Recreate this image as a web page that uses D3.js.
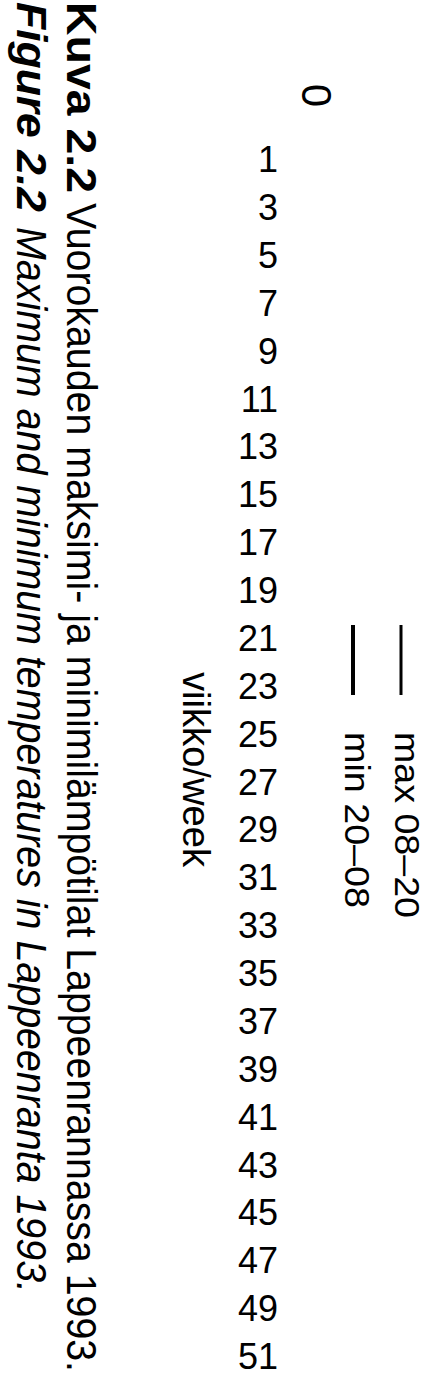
<!DOCTYPE html>
<html>
<head>
<script src="https://cdnjs.cloudflare.com/ajax/libs/d3/7.8.5/d3.min.js"></script>
<style>
  body { margin: 0; background: #fff; }
  svg { display: block; }
</style>
</head>
<body>
<div id="vis"></div>
<script>
// chart values
const weekTicks = [1, 3, 5, 7, 9, 11, 13, 15, 17, 19, 21, 23, 25, 27, 29, 31, 33, 35, 37, 39, 41, 43, 45, 47, 49, 51];
const tempTicks = [0];
const seriesNames = ["max 08–20", "min 20–08"];
const axisTitle = "viikko/week";
const captionFi = ["Kuva 2.2", "Vuorokauden maksimi- ja minimilämpötilat Lappeenrannassa 1993."];
const captionEn = ["Figure 2.2", "Maximum and minimum temperatures in Lappeenranta 1993."];

const FONT = "'Liberation Sans', Arial, sans-serif";
const W = 1376, H = 424;   // the page is drawn landscape, then turned a quarter clockwise

const svg = d3.select("#vis")
    .append("svg")
    .attr("width", H)
    .attr("height", W);

svg.append("rect").attr("width", H).attr("height", W).attr("fill", "#fff");

const g = svg.append("g")
    .attr("transform", `translate(${H},0) rotate(90)`);

// week axis, labels stand upright after the turn
const x = d3.scaleLinear().domain([1, 51]).range([159, 1356]);

g.append("g")
    .attr("transform", "translate(0,146)")
    .call(d3.axisBottom(x).tickValues(weekTicks).tickSize(0).tickFormat(d3.format("d")))
    .attr("font-family", FONT)
    .attr("font-size", 36)
    .call(a => a.select(".domain").remove())
    .call(a => a.selectAll("text")
        .attr("x", 0)
        .attr("y", 0)
        .attr("dy", "0.35em")
        .attr("fill", "#000")
        .attr("transform", "rotate(-90)")
        .style("text-anchor", "end"));

// temperature axis, only the zero label shows
const y = d3.scaleLinear().domain([-30, 30]).range([146, 66]);

g.append("g")
    .attr("transform", "translate(107,0)")
    .call(d3.axisLeft(y).tickValues(tempTicks).tickSize(0))
    .attr("font-family", FONT)
    .attr("font-size", 42)
    .call(a => a.select(".domain").remove())
    .call(a => a.selectAll("text")
        .attr("x", 0)
        .attr("dy", "0.36em")
        .attr("fill", "#000")
        .style("text-anchor", "end"));

// legend
const lineWidths = [3, 4];
const textLens = [186, 176];
const leg = g.append("g").selectAll("g")
    .data(seriesNames)
    .join("g")
    .attr("transform", (d, i) => `translate(0,${23 + i * 48})`);

leg.append("line")
    .attr("x1", 625).attr("x2", 695)
    .attr("stroke", "#000")
    .attr("stroke-width", (d, i) => lineWidths[i]);

leg.append("text")
    .attr("x", 732)
    .attr("y", (d, i) => 6 + i * 2)
    .attr("font-family", FONT)
    .attr("font-size", 35)
    .attr("textLength", (d, i) => textLens[i])
    .attr("lengthAdjust", "spacingAndGlyphs")
    .text(d => d);

// axis title
g.append("text")
    .attr("x", 672)
    .attr("y", 241)
    .attr("font-family", FONT)
    .attr("font-size", 38)
    .attr("textLength", 195)
    .attr("lengthAdjust", "spacingAndGlyphs")
    .text(axisTitle);

// caption, two lines
function captionLine(parts, yBase, size, italic, spans) {
    parts.forEach((t, i) => {
        g.append("text")
            .attr("x", spans[i][0])
            .attr("y", yBase)
            .attr("font-family", FONT)
            .attr("font-size", size)
            .attr("font-weight", i === 0 ? "bold" : "normal")
            .attr("font-style", italic ? "italic" : "normal")
            .attr("textLength", spans[i][1] - spans[i][0])
            .attr("lengthAdjust", "spacingAndGlyphs")
            .text(t);
    });
}

captionLine(captionFi, 357, 43, false, [[2, 193], [203, 1372]]);
captionLine(captionEn, 407, 42, true, [[2, 212], [227, 1293]]);
</script>
</body>
</html>
